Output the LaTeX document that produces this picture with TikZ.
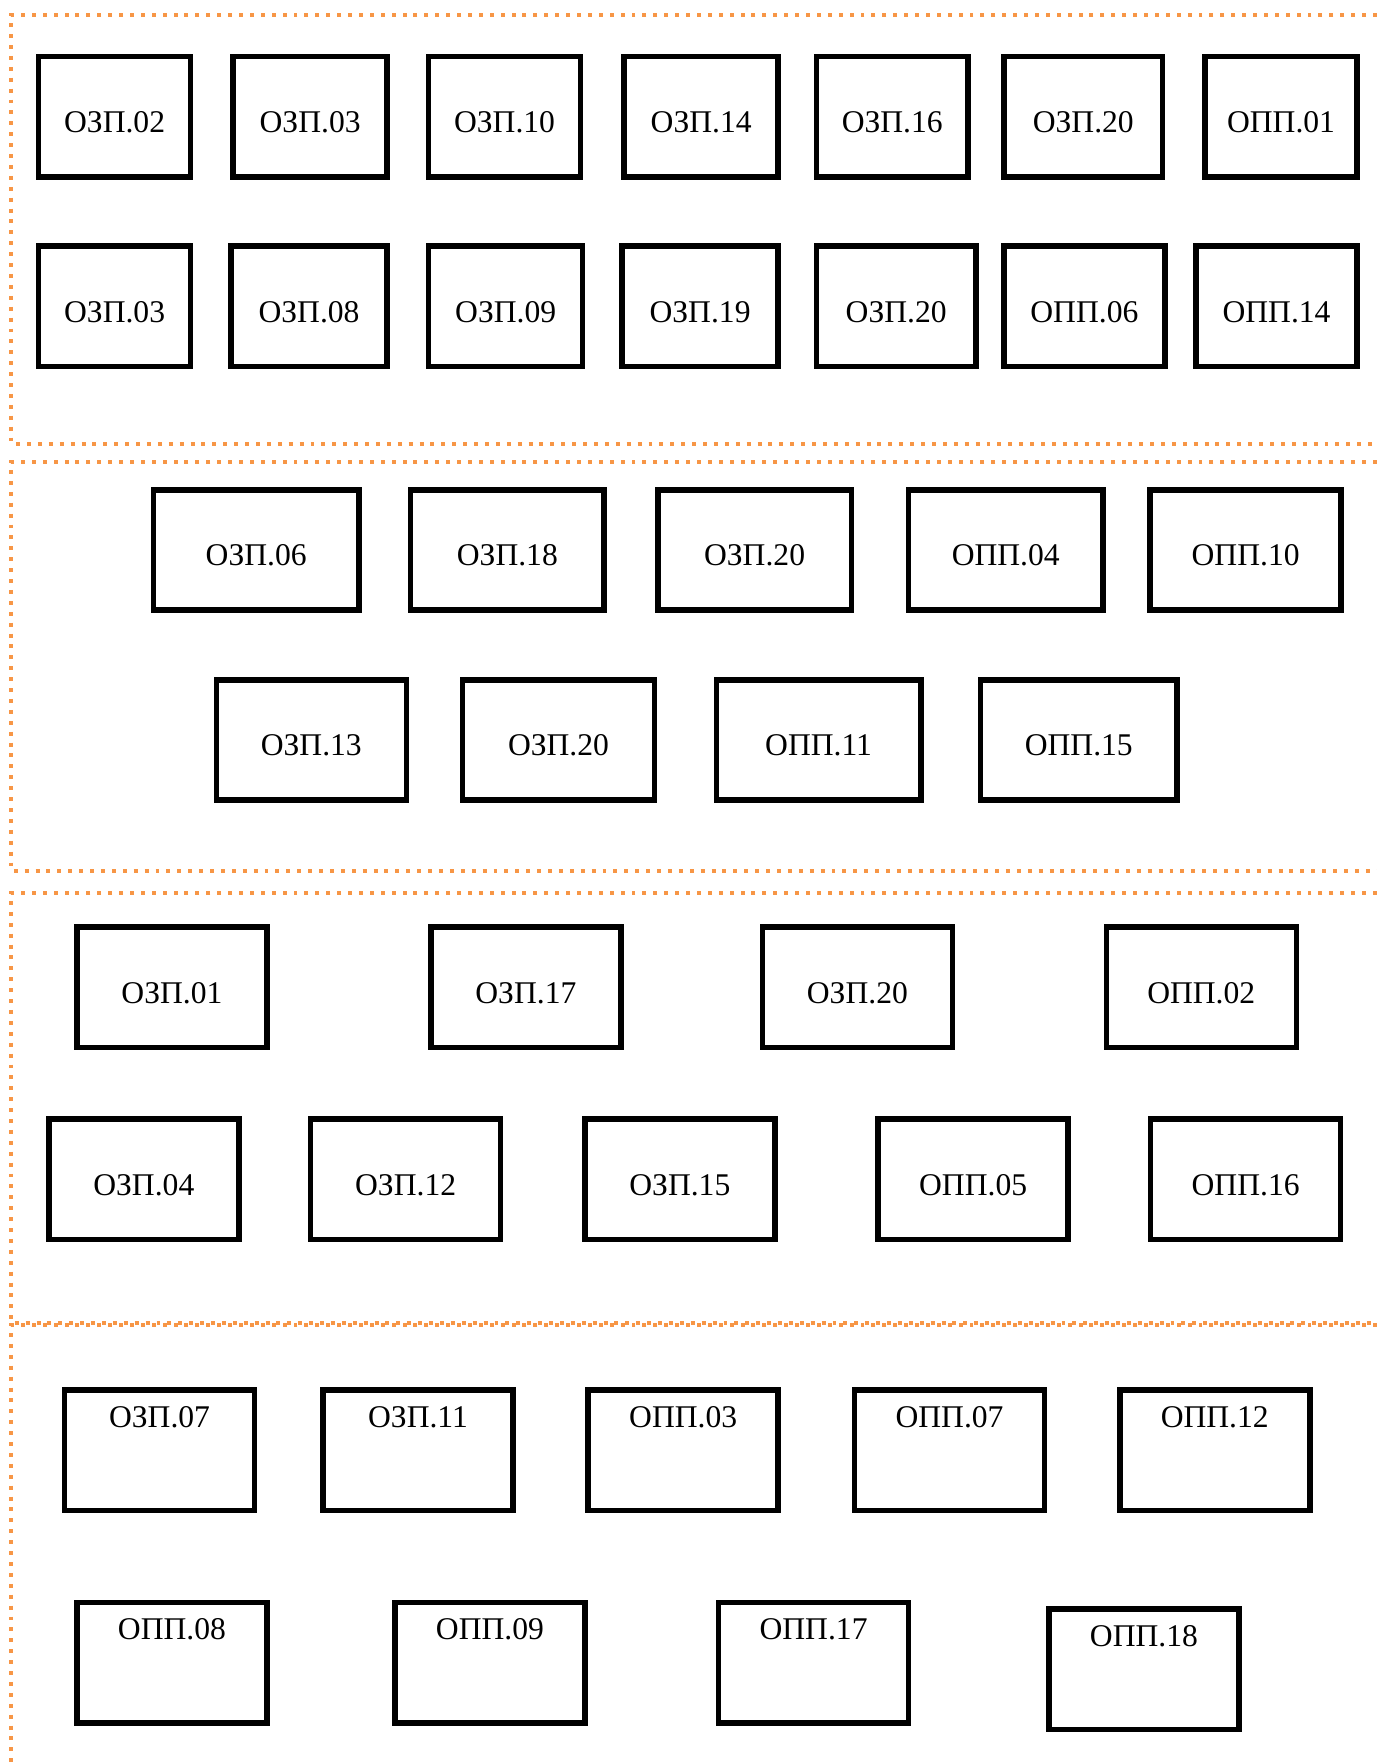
\documentclass[tikz,border=0pt]{standalone}
\usepackage{fontspec}
\setmainfont{Liberation Serif}
\usepackage{xcolor}
\usetikzlibrary{positioning}
\definecolor{zoneorange}{RGB}{247,150,70}

\begin{document}
\begin{tikzpicture}[
  x=0.025cm, y=-0.025cm,
  box/.style={rectangle, draw, line width=3.5pt,
    minimum height=112*0.025cm-3.5pt, inner sep=0pt,
    text height=20pt, text depth=0pt,
    font=\fontsize{20}{24}\selectfont},
  lbl/.style={inner sep=0pt, font=\fontsize{20}{24}\selectfont},
  zone/.style={draw=zoneorange, line width=2.5pt,
    dash pattern=on 2.5pt off 4.4pt},
]
\useasboundingbox (0,0) rectangle (1225,1568);

% dotted zones
\draw[zone] (1235,13.4) -- (10,13.4) -- (10,394.7) -- (1235,394.7);
\draw[zone] (1235,411) -- (10,411) -- (10,775) -- (1235,775);
\draw[zone] (1235,794.5) -- (10,794.5) -- (10,1177) -- (1235,1177);
\draw[zone] (1235,1179) -- (10,1179) -- (10,1575);

% zone 1
\foreach \lbl/\x/\w/\n in {
  ОЗП.02/102/140/a1, ОЗП.03/276/142/a2, ОЗП.10/449/140/a3,
  ОЗП.14/624/142/a4, ОЗП.16/794/140/a5, ОЗП.20/964/146/a6,
  ОПП.01/1140/140/a7}{
  \node[box, minimum width=\w*0.025cm-3.5pt] (\n) at (\x,104) {\lbl};
}
\foreach \lbl/\x/\w/\n in {
  ОЗП.03/102/140/b1, ОЗП.08/275/144/b2, ОЗП.09/450/142/b3,
  ОЗП.19/623/144/b4, ОЗП.20/797.5/147/b5, ОПП.06/965/148/b6,
  ОПП.14/1136/148/b7}{
  \node[box, minimum width=\w*0.025cm-3.5pt] (\n) at (\x,272.5) {\lbl};
}

% zone 2
\foreach \lbl/\x/\w/\n in {
  ОЗП.06/228/188/c1, ОЗП.18/451.5/177/c2, ОЗП.20/671.5/177/c3,
  ОПП.04/895/178/c4, ОПП.10/1108.5/175/c5}{
  \node[box, minimum width=\w*0.025cm-3.5pt] (\n) at (\x,489.5) {\lbl};
}
\foreach \lbl/\x/\w/\n in {
  ОЗП.13/277/174/d1, ОЗП.20/497/176/d2,
  ОПП.11/728.5/187/d3, ОПП.15/960/180/d4}{
  \node[box, minimum width=\w*0.025cm-3.5pt] (\n) at (\x,658.5) {\lbl};
}

% zone 3
\foreach \lbl/\x/\n in {
  ОЗП.01/153/e1, ОЗП.17/468/e2, ОЗП.20/763/e3, ОПП.02/1069/e4}{
  \node[box, minimum width=174*0.025cm-3.5pt] (\n) at (\x,878.5) {\lbl};
}
\foreach \lbl/\x/\n in {
  ОЗП.04/128/f1, ОЗП.12/361/f2, ОЗП.15/605/f3,
  ОПП.05/866/f4, ОПП.16/1108.5/f5}{
  \node[box, minimum width=174*0.025cm-3.5pt] (\n) at (\x,1049.5) {\lbl};
}

% zone 4
\foreach \lbl/\x/\y/\n in {
  ОЗП.07/142/1290.5/g1, ОЗП.11/372/1290.5/g2, ОПП.03/608/1290.5/g3,
  ОПП.07/845/1290.5/g4, ОПП.12/1081/1290.5/g5,
  ОПП.08/153/1479.5/h1, ОПП.09/436/1479.5/h2,
  ОПП.17/724/1479.5/h3, ОПП.18/1018/1485.5/h4}{
  \node[box, minimum width=174*0.025cm-3.5pt] (\n) at (\x,\y) {};
  \node[lbl, below=12pt of \n.north] (\n-t) {\lbl};
}

\end{tikzpicture}
\end{document}
